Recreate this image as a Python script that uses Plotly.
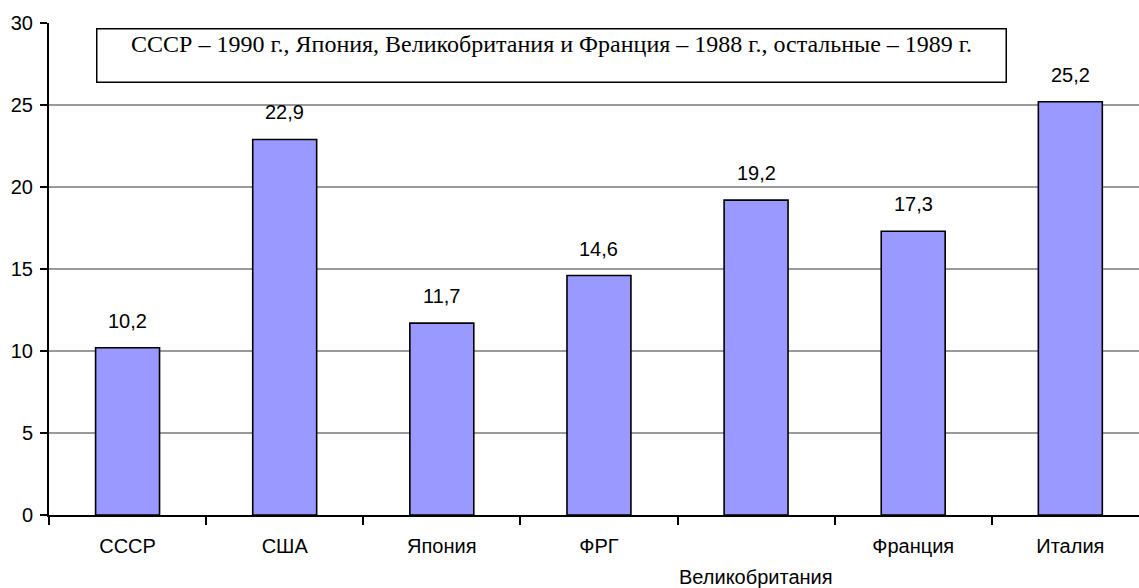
import plotly.graph_objects as go

categories = ["СССР", "США", "Япония", "ФРГ", "Великобритания", "Франция", "Италия"]
values = [10.2, 22.9, 11.7, 14.6, 19.2, 17.3, 25.2]
value_labels = ["10,2", "22,9", "11,7", "14,6", "19,2", "17,3", "25,2"]
tick_labels = ["СССР", "США", "Япония", "ФРГ", "", "Франция", "Италия"]
lowered_label = "Великобритания"
note_text = "СССР – 1990 г., Япония, Великобритания и Франция – 1988 г., остальные – 1989 г."
y_ticks = [0, 5, 10, 15, 20, 25, 30]

SANS = "Liberation Sans, Arial, sans-serif"
SERIF = "Liberation Serif, Times New Roman, serif"
FS = 20

fig = go.Figure()
fig.add_trace(go.Bar(
    x=categories, y=values,
    marker=dict(color="#9999FF", line=dict(color="black", width=1.6)),
    hoverinfo="skip",
))

annotations = []
for c, v, t in zip(categories, values, value_labels):
    annotations.append(dict(
        x=c, y=v, xref="x", yref="y", text=t, showarrow=False,
        yanchor="middle", yshift=27,
        font=dict(family=SANS, size=FS, color="black"),
    ))
annotations.append(dict(
    x=lowered_label, y=0, xref="x", yref="paper", text=lowered_label,
    showarrow=False, yanchor="middle", yshift=-62,
    font=dict(family=SANS, size=FS, color="black"),
))
annotations.append(dict(
    x=0.4606, y=0.934, xref="paper", yref="paper", text=note_text,
    showarrow=False, xanchor="center", yanchor="middle",
    width=906, height=50, valign="top", align="center",
    bordercolor="black", borderwidth=1.5, borderpad=1, bgcolor="white",
    font=dict(family=SERIF, size=24, color="black"),
))

fig.update_layout(
    width=1139, height=588,
    margin=dict(l=49, r=0, t=23, b=73, autoexpand=False),
    paper_bgcolor="white", plot_bgcolor="white",
    showlegend=False,
    bargap=0.593,
    annotations=annotations,
    xaxis=dict(
        type="category",
        range=[-0.5, 6.437],
        tickmode="array", tickvals=categories, ticktext=tick_labels,
        tickson="boundaries", ticks="outside", ticklen=8, tickwidth=1.6,
        tickcolor="black",
        showline=True, linecolor="black", linewidth=2,
        showgrid=False, zeroline=False,
        tickfont=dict(family=SANS, size=FS, color="black"),
        ticklabelstandoff=12,
    ),
    yaxis=dict(
        range=[0, 30],
        tickmode="array", tickvals=y_ticks,
        ticks="outside", ticklen=7, tickwidth=1.6, tickcolor="black",
        showline=True, linecolor="black", linewidth=2,
        showgrid=True, gridcolor="#999999", gridwidth=1.5,
        zeroline=False,
        tickfont=dict(family=SANS, size=FS, color="black"),
        ticklabelstandoff=3,
    ),
)

fig.write_html(
    "out.html",
    config={"displayModeBar": False},
    post_script="document.body.style.margin='0';document.body.style.overflow='hidden';",
)
